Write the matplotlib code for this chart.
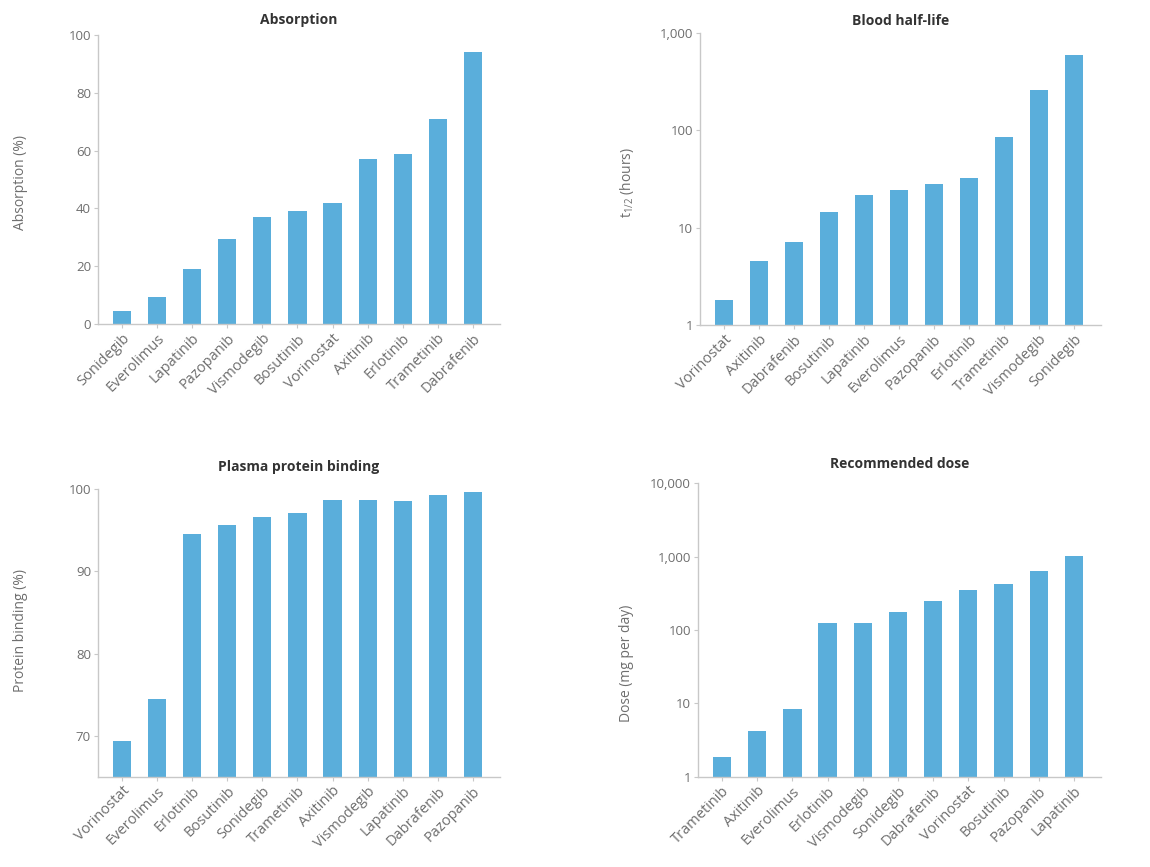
import matplotlib
matplotlib.use('Agg')
import matplotlib.pyplot as plt
import matplotlib.ticker as mticker

plt.rcParams['font.family'] = ['Open Sans', 'DejaVu Sans']

bar_color = '#5aaedb'
spine_color = '#c8c8c8'
text_color = '#6e6e6e'

# absorption (%)
abs_drugs = ['Sonidegib', 'Everolimus', 'Lapatinib', 'Pazopanib', 'Vismodegib', 'Bosutinib',
             'Vorinostat', 'Axitinib', 'Erlotinib', 'Trametinib', 'Dabrafenib']
abs_vals = [4.5, 9.5, 19, 29.4, 37, 39, 42, 57, 59, 71, 94]

# blood half-life (hours)
hl_drugs = ['Vorinostat', 'Axitinib', 'Dabrafenib', 'Bosutinib', 'Lapatinib', 'Everolimus',
            'Pazopanib', 'Erlotinib', 'Trametinib', 'Vismodegib', 'Sonidegib']
hl_vals = [1.8, 4.5, 7.1, 14.4, 21.7, 24.4, 28, 32, 86, 260, 600]

# plasma protein binding (%)
pb_drugs = ['Vorinostat', 'Everolimus', 'Erlotinib', 'Bosutinib', 'Sonidegib', 'Trametinib',
            'Axitinib', 'Vismodegib', 'Lapatinib', 'Dabrafenib', 'Pazopanib']
pb_vals = [69.3, 74.5, 94.6, 95.7, 96.6, 97.1, 98.7, 98.7, 98.6, 99.3, 99.7]

# recommended dose (mg per day)
dose_drugs = ['Trametinib', 'Axitinib', 'Everolimus', 'Erlotinib', 'Vismodegib', 'Sonidegib',
              'Dabrafenib', 'Vorinostat', 'Bosutinib', 'Pazopanib', 'Lapatinib']
dose_vals = [1.85, 4.2, 8.3, 126, 126, 178, 251, 351, 420, 645, 1020]

fig = plt.figure(figsize=(11.5, 8.67), dpi=100)


def panel(rect, names, vals, title, log=False, ylim=None, ticks=None, labels=None, title_y=1.0):
    ax = fig.add_axes(rect)
    x = list(range(len(names)))
    if log:
        ax.set_yscale('log')
    ax.bar(x, vals, width=0.52, color=bar_color)
    ax.set_ylim(*ylim)
    ax.set_xlim(-0.68, len(names) - 1 + 0.77)
    ax.yaxis.set_major_locator(mticker.FixedLocator(ticks))
    ax.yaxis.set_minor_locator(mticker.NullLocator())
    ax.set_yticklabels(labels)
    ax.set_xticks(x)
    ax.set_xticklabels(names, rotation=45, ha='right', rotation_mode='anchor', fontsize=10.5)
    for s in ['top', 'right']:
        ax.spines[s].set_visible(False)
    for s in ['left', 'bottom']:
        ax.spines[s].set_color(spine_color)
        ax.spines[s].set_linewidth(1.0)
    ax.tick_params(axis='both', colors=spine_color, labelcolor=text_color,
                   length=3, width=0.8, pad=2)
    ax.tick_params(axis='y', labelsize=9.5)
    ax.set_title(title, fontsize=10, fontweight='bold', color='#333333', pad=8, y=title_y)
    return ax


ax1 = panel([0.0852, 0.6263, 0.3496, 0.3333], abs_drugs, abs_vals, 'Absorption',
            ylim=(0, 100), ticks=[0, 20, 40, 60, 80, 100],
            labels=['0', '20', '40', '60', '80', '100'])
ax2 = panel([0.6087, 0.6251, 0.3487, 0.3369], hl_drugs, hl_vals, 'Blood half-life',
            log=True, ylim=(1, 1000), ticks=[1, 10, 100, 1000],
            labels=['1', '10', '100', '1,000'], title_y=0.99)
ax3 = panel([0.0852, 0.1042, 0.3496, 0.3314], pb_drugs, pb_vals, 'Plasma protein binding',
            ylim=(65, 100), ticks=[70, 80, 90, 100],
            labels=['70', '80', '90', '100'], title_y=1.025)
ax4 = panel([0.6070, 0.1042, 0.3504, 0.3384], dose_drugs, dose_vals, 'Recommended dose',
            log=True, ylim=(1, 10000), ticks=[1, 10, 100, 1000, 10000],
            labels=['1', '10', '100', '1,000', '10,000'], title_y=1.015)

fig.text(0.018, 0.79, 'Absorption (%)', rotation=90, ha='center', va='center',
         fontsize=10, color=text_color)
fig.text(0.545, 0.79, r'$\mathregular{t_{1/2}}$ (hours)', rotation=90, ha='center', va='center',
         fontsize=10, color=text_color)
fig.text(0.018, 0.273, 'Protein binding (%)', rotation=90, ha='center', va='center',
         fontsize=10, color=text_color)
fig.text(0.545, 0.235, 'Dose (mg per day)', rotation=90, ha='center', va='center',
         fontsize=10, color=text_color)

fig.savefig('out.png', dpi=100)
